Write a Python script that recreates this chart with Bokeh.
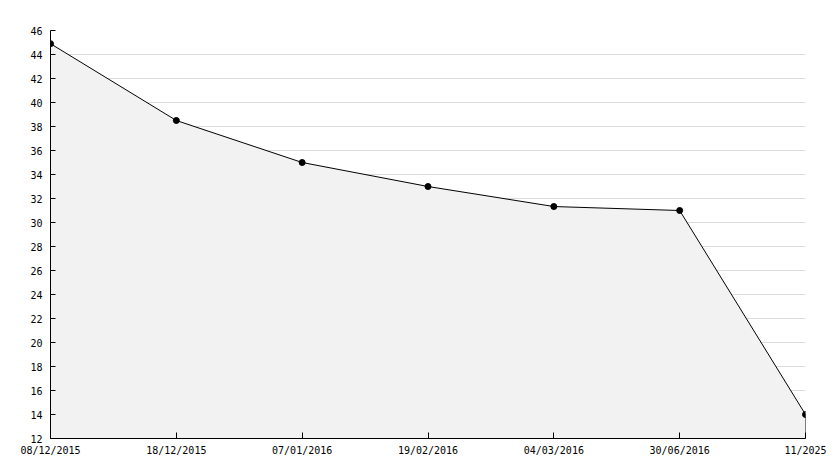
from bokeh.plotting import figure
from bokeh.embed import file_html
from bokeh.resources import INLINE
from bokeh.models import FixedTicker, SingleIntervalTicker, Range1d

dates = ["08/12/2015", "18/12/2015", "07/01/2016", "19/02/2016", "04/03/2016", "30/06/2016", "11/2025"]
values = [44.9, 38.5, 35.0, 33.0, 31.33, 31.0, 14.0]
y_min, y_max = 12, 46

xs = list(range(len(dates)))

p = figure(frame_width=755, frame_height=408, output_backend="svg", toolbar_location=None,
           x_range=Range1d(0, len(dates) - 1), y_range=Range1d(y_min, y_max),
           min_border_left=50, min_border_right=29, min_border_top=30, min_border_bottom=22)
p.outline_line_color = None
p.background_fill_color = "white"

p.varea(x=xs, y1=[y_min] * len(xs), y2=values, fill_color="#f2f2f2")
p.line(xs, values, line_color="black", line_width=1)
p.segment(x0=[xs[-1]], y0=[y_min], x1=[xs[-1]], y1=[values[-1]], line_color="black", line_width=1)
p.scatter(xs, values, marker="circle", size=6, fill_color="black", line_color="black")

font = "DejaVu Sans Mono"
p.xaxis.ticker = FixedTicker(ticks=xs)
p.xaxis.major_label_overrides = {i: d for i, d in enumerate(dates)}
p.xaxis.major_tick_in = 6
p.xaxis.major_tick_out = 0
p.xaxis.minor_tick_line_color = None
p.xaxis.major_label_standoff = 6
p.xgrid.grid_line_color = None

p.yaxis.ticker = SingleIntervalTicker(interval=2, num_minor_ticks=2)
p.yaxis.major_tick_in = 5
p.yaxis.major_tick_out = 0
p.yaxis.minor_tick_in = 3
p.yaxis.minor_tick_out = 0
p.yaxis.major_label_standoff = 8
p.ygrid.grid_line_color = "#dcdcdc"

for ax in (p.xaxis, p.yaxis):
    ax.axis_line_color = "black"
    ax.major_tick_line_color = "black"
    ax.minor_tick_line_color = "black" if ax is p.yaxis else None
    ax.major_label_text_font = font
    ax.major_label_text_font_size = "10px"
    ax.major_label_text_color = "black"

open("out.html", "w").write(file_html(p, INLINE))
